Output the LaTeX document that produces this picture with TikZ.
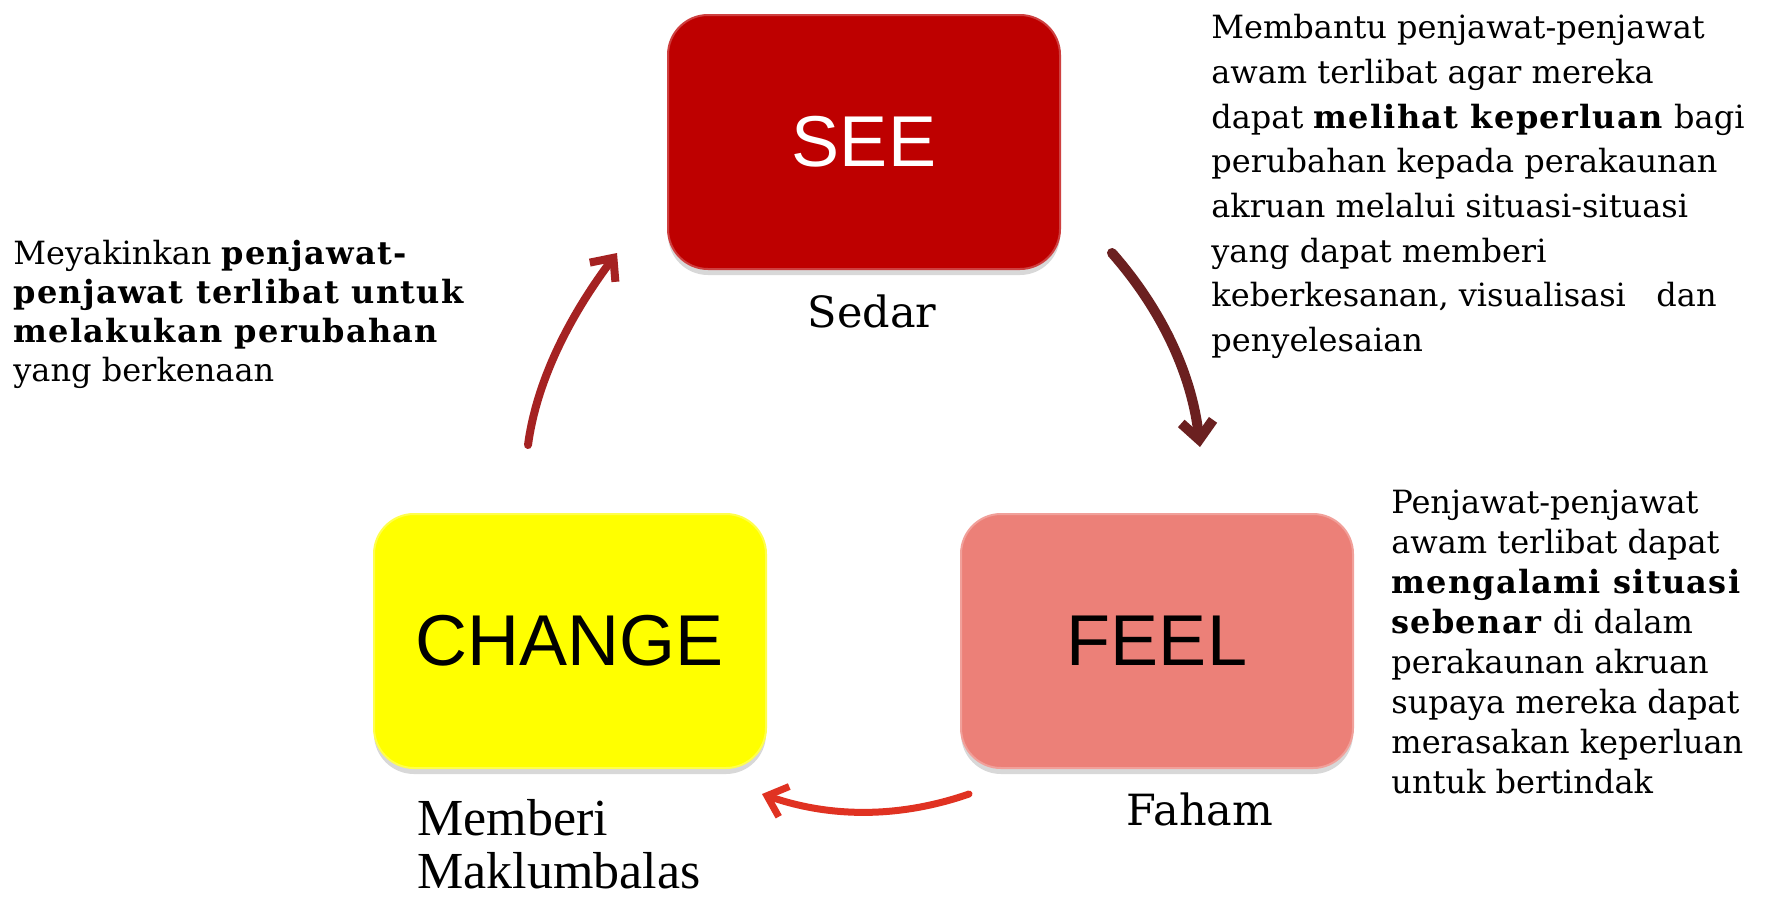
\documentclass[tikz,border=0pt]{standalone}
\usepackage{fontspec}
\setmainfont{DejaVu Serif}[BoldFeatures={LetterSpace=4}]
\newfontfamily\boxfont{Liberation Sans}
\newfontfamily\tnrfont{Liberation Serif}
\usepackage{tikz}
\usetikzlibrary{shapes,positioning,calc,shadows,arrows.meta}

\definecolor{seered}{RGB}{190,0,0}
\definecolor{feelpink}{RGB}{236,128,120}
\definecolor{chyellow}{RGB}{255,255,0}
\definecolor{arrdark}{RGB}{107,32,32}
\definecolor{arrmid}{RGB}{165,34,34}
\definecolor{arrbright}{RGB}{224,50,34}

\begin{document}
\begin{tikzpicture}[x=0.5pt,y=-0.5pt,
      mybox/.style = {rectangle, rounded corners=20pt, minimum width=196pt, minimum height=127pt,
                      line width=1pt, font=\boxfont\fontsize{36pt}{40pt}\selectfont,
                      drop shadow={shadow xshift=0pt, shadow yshift=-3pt, opacity=0.3}},
      ms/.style = {mybox, fill=seered, draw=seered!75!white, text=white},
      mf/.style = {mybox, fill=feelpink, draw=feelpink!75!white},
      mch/.style = {mybox, fill=chyellow, draw=chyellow!70!white},
      lbl/.style = {font=\fontsize{21.5pt}{26pt}\selectfont, anchor=base, inner sep=0pt},
      para/.style = {align=left, anchor=north west, inner sep=0pt},
      cyc/.style = {line cap=round, -{Straight Barb[length=9pt,width=16pt]}}
      ]
      \useasboundingbox[fill=white] (0,0) rectangle (1766,900);

      % boxes
      \node[ms] (see) at (864,142) {SEE};
      \node[mf] (feel) at (1157,641) {FEEL};
      \node[mch] (change) at (570,641) {CHANGE};

      \node[lbl] (sedar) at (872,327) {Sedar};
      \node[lbl] (faham) at (1200,825) {Faham};
      \node[para, font=\tnrfont\fontsize{26pt}{26.5pt}\selectfont] (memberi) at (417,799)
           {Memberi\\ Maklumbalas};

      % texts
      \node[para, font=\fontsize{16pt}{22.35pt}\selectfont] (seetxt) at (1211,14)
           {Membantu penjawat-penjawat\\ awam terlibat agar mereka\\
            dapat \textbf{melihat keperluan} bagi\\ perubahan kepada perakaunan\\
            akruan melalui situasi-situasi\\ yang dapat memberi\\
            keberkesanan, visualisasi\ \ \ dan\\ penyelesaian};
      \node[para, font=\fontsize{16pt}{20pt}\selectfont] (feeltxt) at (1391,490)
           {Penjawat-penjawat\\ awam terlibat dapat\\ \textbf{mengalami situasi}\\
            \textbf{sebenar} di dalam\\ perakaunan akruan\\ supaya mereka dapat\\
            merasakan keperluan\\ untuk bertindak};
      \node[para, font=\fontsize{16pt}{19.5pt}\selectfont] (changetxt) at (13,240)
           {Meyakinkan \textbf{penjawat-}\\ \textbf{penjawat terlibat untuk}\\
            \textbf{melakukan perubahan}\\ yang berkenaan};

      % arrows
      \coordinate (a1) at (1112,253);
      \coordinate (b1) at (1200,447);
      \coordinate (a2) at (969,794);
      \coordinate (b2) at (762,794);
      \coordinate (a3) at (528,445);
      \coordinate (b3) at (617,253);
      \draw[cyc, arrdark, line width=5pt] (a1) .. controls (1163,311) and (1192,376) .. (b1);
      \draw[cyc, arrbright, line width=3.5pt] (a2) .. controls (900,818) and (831,818) .. (b2);
      \draw[cyc, arrmid, line width=4pt] (a3) .. controls (536,385) and (566,321) .. (b3);
    \end{tikzpicture}
\end{document}
